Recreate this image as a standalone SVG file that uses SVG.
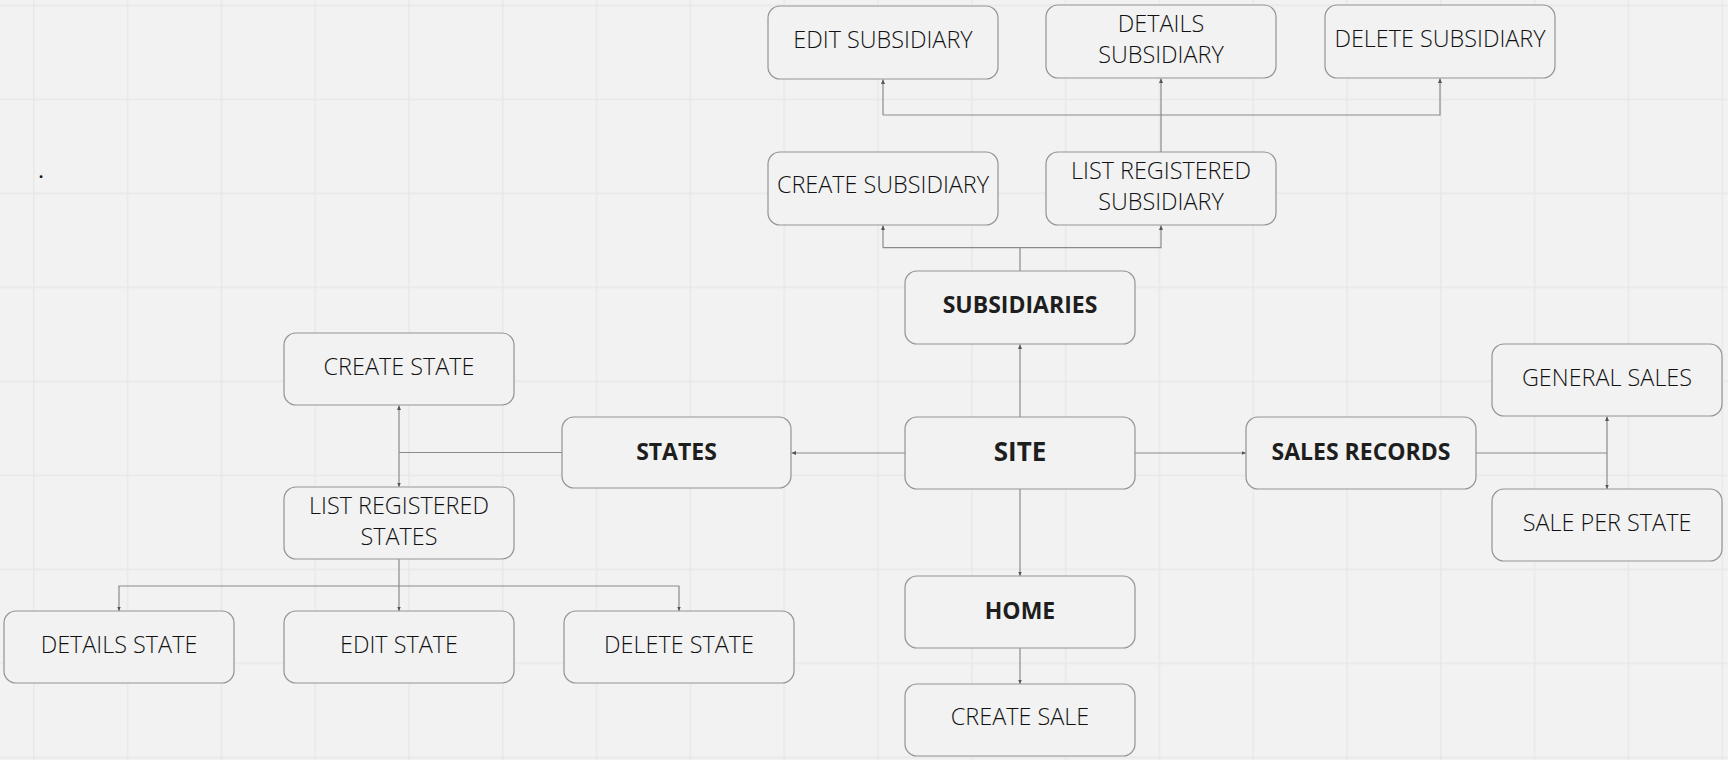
<svg xmlns="http://www.w3.org/2000/svg" width="1728" height="760" viewBox="0 0 1728 760">
<defs>
<pattern id="grid" x="33" y="4.5" width="93.8" height="94" patternUnits="userSpaceOnUse">
<path d="M0.75 0V94M0 0.75H93.8" fill="none" stroke="#e8e8e8" stroke-width="1.5"/>
</pattern>
<marker id="ah" markerWidth="5" markerHeight="5" refX="4.5" refY="2.5" orient="auto" markerUnits="userSpaceOnUse">
<path d="M0,0.5 L4.5,2.5 L0,4.5 Z" fill="#555"/>
</marker>
<style>
.box{fill:#f2f2f2;stroke:#939393;stroke-width:1.2}
.t{font-family:"Open Sans","Noto Sans","DejaVu Sans",sans-serif;font-size:23.4px;font-weight:350;fill:#111;text-anchor:middle;dominant-baseline:central}
.b{font-weight:700;font-size:23px;fill:#1e1e1e}
.c{fill:none;stroke:#8a8a8a;stroke-width:1.2}
.a{marker-end:url(#ah)}
</style>
</defs>
<rect width="1728" height="760" fill="#f2f2f2"/>
<rect width="1728" height="760" fill="url(#grid)"/>
<text x="41" y="172" class="t" style="font-size:16px;font-weight:700">.</text>

<g id="connectors">
<path class="c" d="M1020 271V247.7H883"/>
<path class="c a" d="M883 247.7V225.5"/>
<path class="c a" d="M1020 247.7H1161V225.5"/>
<path class="c" d="M1161 152V115H883"/>
<path class="c a" d="M883 115V79.5"/>
<path class="c a" d="M1161 115V78.5"/>
<path class="c a" d="M1161 115H1440V78.5"/>
<path class="c a" d="M1020 417V344.5"/>
<path class="c a" d="M1020 489V576"/>
<path class="c a" d="M1020 648V684"/>
<path class="c a" d="M1135 453H1246"/>
<path class="c" d="M1476 453H1607"/>
<path class="c a" d="M1607 453V416.5"/>
<path class="c a" d="M1607 453V489"/>
<path class="c a" d="M905 453H791.5"/>
<path class="c" d="M562 452.5H399"/>
<path class="c a" d="M399 452.5V405.5"/>
<path class="c a" d="M399 452.5V487"/>
<path class="c" d="M399 559V586"/>
<path class="c a" d="M399 586H119V611"/>
<path class="c a" d="M399 586V611"/>
<path class="c a" d="M399 586H679V611"/>
</g>

<g id="edit-subsidiary"><rect class="box" x="768" y="6" width="230" height="73" rx="12"/><text class="t" x="883" y="39">EDIT SUBSIDIARY</text></g>
<g id="details-subsidiary"><rect class="box" x="1046" y="5" width="230" height="73" rx="12"/><text class="t" x="1161" y="22.5">DETAILS</text><text class="t" x="1161" y="54">SUBSIDIARY</text></g>
<g id="delete-subsidiary"><rect class="box" x="1325" y="5" width="230" height="73" rx="12"/><text class="t" x="1440" y="38">DELETE SUBSIDIARY</text></g>
<g id="create-subsidiary"><rect class="box" x="768" y="152" width="230" height="73" rx="12"/><text class="t" x="883" y="184">CREATE SUBSIDIARY</text></g>
<g id="list-registered-subsidiary"><rect class="box" x="1046" y="152" width="230" height="73" rx="12"/><text class="t" x="1161" y="169.5">LIST REGISTERED</text><text class="t" x="1161" y="201">SUBSIDIARY</text></g>
<g id="subsidiaries"><rect class="box" x="905" y="271" width="230" height="73" rx="12"/><text class="t b" x="1020" y="304">SUBSIDIARIES</text></g>
<g id="site"><rect class="box" x="905" y="417" width="230" height="72" rx="12"/><text class="t b" x="1020" y="451" style="font-size:26px">SITE</text></g>
<g id="home"><rect class="box" x="905" y="576" width="230" height="72" rx="12"/><text class="t b" x="1020" y="610">HOME</text></g>
<g id="create-sale"><rect class="box" x="905" y="684" width="230" height="72" rx="12"/><text class="t" x="1020" y="716">CREATE SALE</text></g>
<g id="sales-records"><rect class="box" x="1246" y="417" width="230" height="72" rx="12"/><text class="t b" x="1361" y="451">SALES RECORDS</text></g>
<g id="general-sales"><rect class="box" x="1492" y="344" width="230" height="72" rx="12"/><text class="t" x="1607" y="376.5">GENERAL SALES</text></g>
<g id="sale-per-state"><rect class="box" x="1492" y="489" width="230" height="72" rx="12"/><text class="t" x="1607" y="521.5">SALE PER STATE</text></g>
<g id="states"><rect class="box" x="562" y="417" width="229" height="71" rx="12"/><text class="t b" x="676.5" y="451">STATES</text></g>
<g id="create-state"><rect class="box" x="284" y="333" width="230" height="72" rx="12"/><text class="t" x="399" y="366">CREATE STATE</text></g>
<g id="list-registered-states"><rect class="box" x="284" y="487" width="230" height="72" rx="12"/><text class="t" x="399" y="505">LIST REGISTERED</text><text class="t" x="399" y="536">STATES</text></g>
<g id="details-state"><rect class="box" x="4" y="611" width="230" height="72" rx="12"/><text class="t" x="119" y="644">DETAILS STATE</text></g>
<g id="edit-state"><rect class="box" x="284" y="611" width="230" height="72" rx="12"/><text class="t" x="399" y="644">EDIT STATE</text></g>
<g id="delete-state"><rect class="box" x="564" y="611" width="230" height="72" rx="12"/><text class="t" x="679" y="644">DELETE STATE</text></g>
</svg>
